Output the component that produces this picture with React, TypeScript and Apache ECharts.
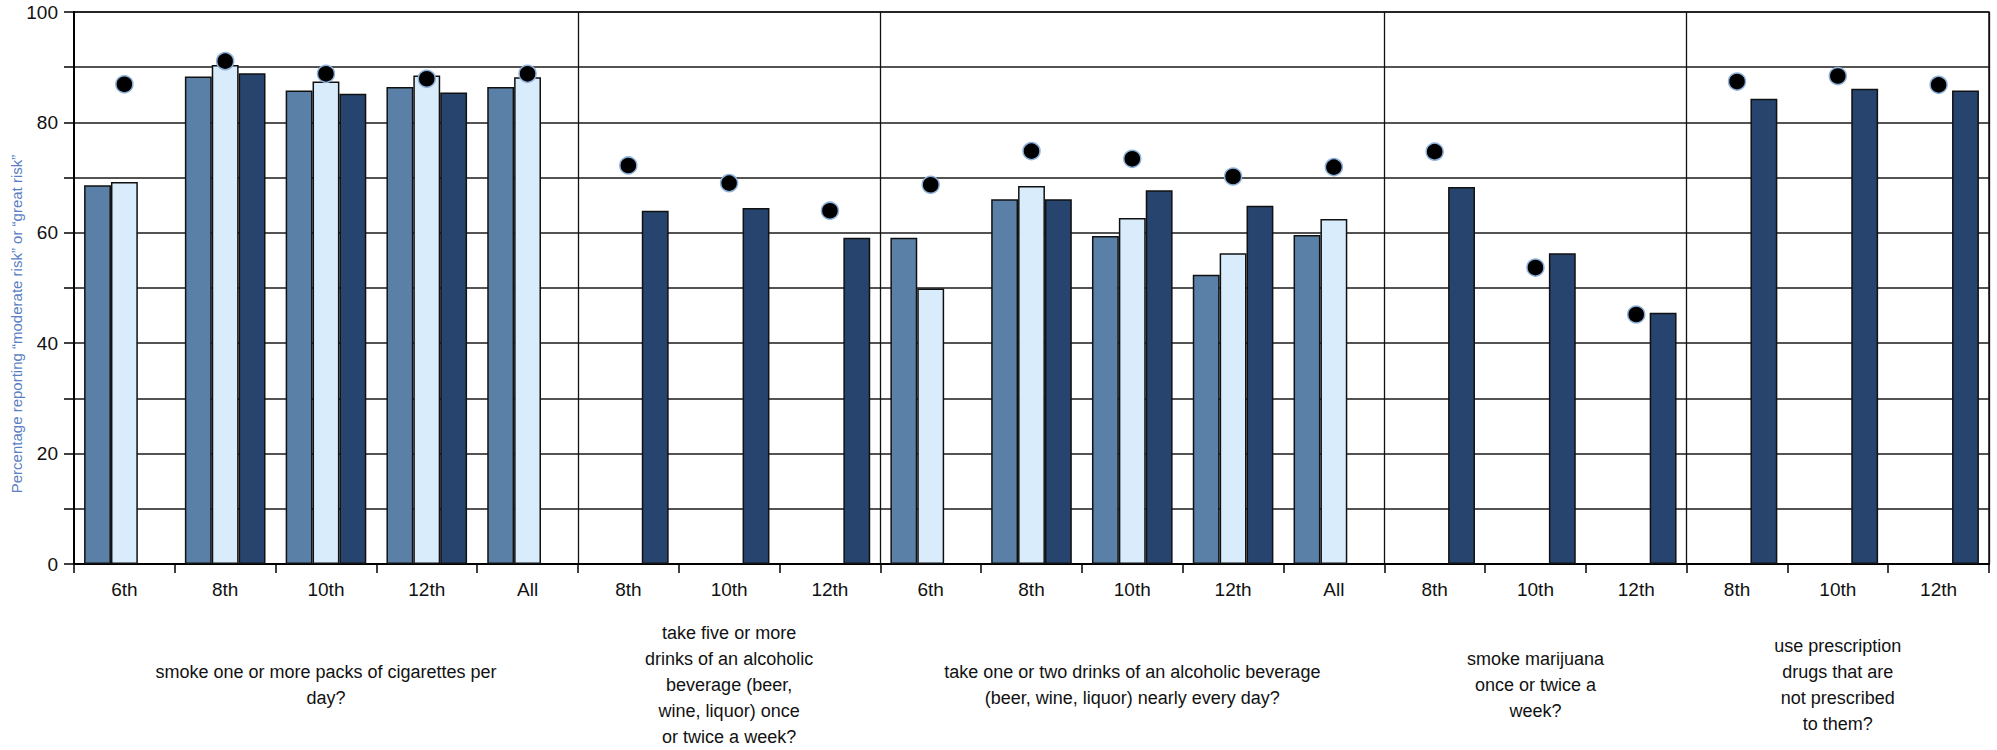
import React, { useEffect, useRef } from "react";
import * as echarts from "echarts";

const categories = [
  "6th", "8th", "10th", "12th", "All",
  "8th", "10th", "12th",
  "6th", "8th", "10th", "12th", "All",
  "8th", "10th", "12th",
  "8th", "10th", "12th",
];

const groupSizes = [5, 3, 5, 3, 3];
const groupLabels = [
  "smoke one or more packs of cigarettes per\nday?",
  "take five or more\ndrinks of an alcoholic\nbeverage (beer,\nwine, liquor) once\nor twice a week?",
  "take one or two drinks of an alcoholic beverage\n(beer, wine, liquor) nearly every day?",
  "smoke marijuana\nonce or twice a\nweek?",
  "use prescription\ndrugs that are\nnot prescribed\nto them?",
];

const seriesA = [68.6, 88.3, 85.8, 86.4, 86.4, null, null, null, 59.1, 66.1, 59.4, 52.4, 59.6, null, null, null, null, null, null];
const seriesB = [69.2, 90.4, 87.4, 88.5, 88.2, null, null, null, 49.9, 68.5, 62.7, 56.3, 62.5, null, null, null, null, null, null];
const seriesC = [null, 88.9, 85.2, 85.4, null, 64.0, 64.5, 59.1, null, 66.1, 67.7, 64.9, null, 68.3, 56.3, 45.5, 84.3, 86.1, 85.8];
const dots = [86.9, 91.1, 88.8, 87.9, 88.8, 72.2, 69.0, 64.0, 68.7, 74.8, 73.4, 70.2, 71.9, 74.7, 53.7, 45.2, 87.4, 88.4, 86.8];

const yTitle = "Percentage reporting \u201cmoderate risk\u201d or \u201cgreat risk\u201d";

export default function App() {
  const ref = useRef<HTMLDivElement>(null);

  useEffect(() => {
    if (!ref.current) return;
    const chart = echarts.init(ref.current, null, { renderer: "svg" });

    const boundaries: number[] = [];
    const midLabel: Record<number, string> = {};
    let start = 0;
    groupSizes.forEach((s, gi) => {
      midLabel[start + Math.floor(s / 2)] = groupLabels[gi];
      start += s;
      if (start < categories.length) boundaries.push(start);
    });

    const font = "'Liberation Sans', Arial, sans-serif";
    const barBase = {
      type: "bar" as const,
      xAxisIndex: 0,
      yAxisIndex: 0,
      barGap: "0%",
      barCategoryGap: "20%",
    };

    chart.setOption({
      animation: false,
      backgroundColor: "#ffffff",
      textStyle: { fontFamily: font },
      grid: {
        left: 74,
        right: 8,
        top: 12,
        bottom: 182,
        show: true,
        borderColor: "#111",
        borderWidth: 1.5,
        backgroundColor: "transparent",
      },
      xAxis: [
        {
          type: "category",
          data: categories,
          axisLine: { show: true, lineStyle: { color: "#000", width: 2 } },
          axisTick: { show: true, interval: 0, length: 9, lineStyle: { color: "#000", width: 1.5 } },
          axisLabel: { interval: 0, fontSize: 19, color: "#111", margin: 16, fontFamily: font },
          splitLine: {
            show: true,
            interval: (i: number) => boundaries.indexOf(i) >= 0,
            lineStyle: { color: "#111", width: 1.3 },
          },
        },
        {
          type: "category",
          data: categories,
          position: "bottom",
          axisLine: { show: false },
          axisTick: { show: false },
          splitLine: { show: false },
          axisLabel: {
            interval: 0,
            formatter: (_v: string, i: number) => midLabel[i] ?? "",
            verticalAlign: "middle",
            align: "center",
            margin: 121,
            fontSize: 18,
            lineHeight: 26,
            color: "#111",
            fontFamily: font,
          },
        },
      ],
      yAxis: {
        type: "value",
        min: 0,
        max: 100,
        interval: 10,
        axisLine: { show: true, lineStyle: { color: "#000", width: 2 } },
        axisTick: { show: true, length: 10, lineStyle: { color: "#000", width: 1.5 } },
        axisLabel: {
          formatter: (v: number) => (v % 20 === 0 ? String(v) : ""),
          fontSize: 19,
          color: "#111",
          margin: 16,
          fontFamily: font,
        },
        splitLine: { show: true, lineStyle: { color: "#1a1a1a", width: 1.5 } },
      },
      series: [
        {
          ...barBase,
          name: "Series A",
          data: seriesA,
          itemStyle: { color: "#5b80a8", borderColor: "#111", borderWidth: 1.5 },
        },
        {
          ...barBase,
          name: "Series B",
          data: seriesB,
          itemStyle: { color: "#d8ecfc", borderColor: "#111", borderWidth: 1.5 },
        },
        {
          ...barBase,
          name: "Series C",
          data: seriesC,
          itemStyle: { color: "#26446e", borderColor: "#111", borderWidth: 1.5 },
        },
        {
          type: "scatter",
          name: "Comparison",
          xAxisIndex: 0,
          yAxisIndex: 0,
          data: dots,
          symbol: "circle",
          symbolSize: 17,
          z: 5,
          itemStyle: { color: "#000", borderColor: "#8fb2db", borderWidth: 1.5, opacity: 1 },
        },
      ],
      graphic: [
        {
          type: "text",
          x: 16,
          y: 324,
          rotation: Math.PI / 2,
          style: {
            text: yTitle,
            fill: "#5a7fc4",
            fontSize: 15,
            fontFamily: "'Liberation Sans', Arial, sans-serif",
            align: "center",
            verticalAlign: "middle",
          },
        },
      ],
    });

    return () => chart.dispose();
  }, []);

  return (
    <div
      ref={ref}
      style={{ position: "absolute", left: 0, top: 0, width: 1997, height: 750, background: "#fff" }}
    />
  );
}
